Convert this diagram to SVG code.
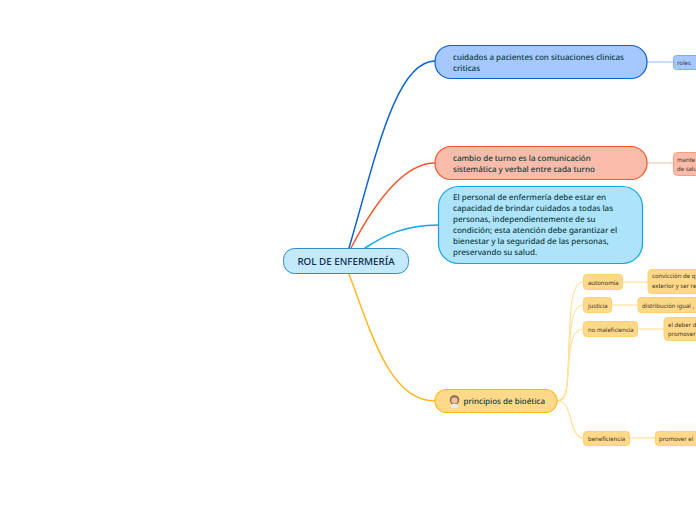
<svg xmlns="http://www.w3.org/2000/svg" width="696" height="520" viewBox="0 0 696 520">
<style>
text{font-family:"Noto Sans","Open Sans","Liberation Sans",sans-serif;text-rendering:geometricPrecision}
.m{font-size:8px;font-weight:500;fill:#0d3b3a}
.s{font-size:6px;fill:#3a2f1a}
.c{fill:none;stroke-linecap:round;stroke-width:1.500}
.y{fill:#ffd98a;stroke:#ffcf70;stroke-width:1}
.yl{stroke:#ffdf9a;stroke-width:1.200;fill:none}
</style>
<rect width="696" height="520" fill="#fff"/>
<g id="connectors">
<path class="c" d="M349 248C375 160 395 61 435 61" stroke="#0b5fd0"/>
<path class="c" d="M351 248C376 200 405 163 435 163" stroke="#f4562a"/>
<path class="c" d="M365 248C385 235 405 225 438 225" stroke="#0ea5e9"/>
<path class="c" d="M349 274C372 335 390 401 435 401" stroke="#ffb81f"/>
<path class="yl" d="M647 62H673" style="stroke:#a4c8ff"/>
<path class="yl" d="M647 163H673" style="stroke:#fcc9b8"/>
<path class="yl" d="M557 401C566 401 567 390 568 372C570 315 570 282 583 282"/>
<path class="yl" d="M557 401C566 401 567 390 568 372C570 330 571 305 583 305"/>
<path class="yl" d="M557 401C566 401 567 390 568 372C570 345 572 329 583 329"/>
<path class="yl" d="M557 401C567 401 569 412 572 424C575 434 578 438 583 438"/>
<path class="yl" d="M623 282H648"/>
<path class="yl" d="M612 305H638"/>
<path class="yl" d="M638 329H664"/>
<path class="yl" d="M630 438H655"/>
</g>
<g id="root"><rect x="283.500" y="248.500" width="125" height="25" rx="11" fill="#c2e9fc" stroke="#2a8fc9"/><text x="346" y="265" text-anchor="middle" font-weight="500" fill="#10284a" style="font-size:9.800px">ROL DE ENFERMERÍA</text></g>
<g id="n1"><rect x="435" y="45.500" width="212" height="33" rx="16" fill="#a4c8ff" stroke="#0b5fd0" stroke-width="1.200"/><text class="m" x="453" y="60">cuidados a pacientes con situaciones clinicas</text><text class="m" x="453" y="71">criticas</text></g>
<g id="n1a"><rect x="673.500" y="55.500" width="30" height="14" rx="3" fill="#a4c8ff" stroke="#7aaef5"/><text class="s" x="677" y="65">roles</text></g>
<g id="n2"><rect x="435" y="146.500" width="212" height="33" rx="16" fill="#fabcaa" stroke="#f4562a" stroke-width="1.200"/><text class="m" x="453" y="161">cambio de turno es la comunicación</text><text class="m" x="453" y="172">sistemática y verbal entre cada turno</text></g>
<g id="n2a"><rect x="673.500" y="152.500" width="50" height="23" rx="4" fill="#fabcaa" stroke="#f99c82"/><text class="s" x="677" y="162">mante</text><text class="s" x="677" y="171">de salu</text></g>
<g id="n3"><rect x="438.500" y="186.500" width="204" height="77" rx="20" fill="#ade3fb" stroke="#0ea5e9" stroke-width="1.200"/>
<text class="m" x="453" y="200">El personal de enfermería debe estar en</text>
<text class="m" x="453" y="211">capacidad de brindar cuidados a todas las</text>
<text class="m" x="453" y="222">personas, independientemente de su</text>
<text class="m" x="453" y="233">condición; esta atención debe garantizar el</text>
<text class="m" x="453" y="244">bienestar y la seguridad de las personas,</text>
<text class="m" x="453" y="255">preservando su salud.</text></g>
<g id="n4"><rect x="435" y="389.500" width="122" height="23" rx="11.500" fill="#ffd98a" stroke="#ffb81f" stroke-width="1.200"/>
<circle cx="454.500" cy="400" r="4.800" fill="#8a6a50"/><circle cx="454.500" cy="400.500" r="3.200" fill="#f2bd98"/><rect x="451" y="404" width="7" height="4" rx="1.500" fill="#dfeef2"/>
<text class="m" x="463.500" y="404">principios de bioética</text></g>
<g id="a1"><rect class="y" x="583.500" y="274.500" width="39" height="15" rx="3"/><text class="s" x="588" y="284.500">autonomía</text></g>
<g id="a2"><rect class="y" x="648" y="269.500" width="60" height="24" rx="4"/><text class="s" x="652" y="278">convicción de q</text><text class="s" x="652" y="288">exterior y ser re</text></g>
<g id="b1"><rect class="y" x="583.500" y="297.500" width="28" height="15" rx="3"/><text class="s" x="588" y="307.500">justicia</text></g>
<g id="b2"><rect class="y" x="638" y="297.500" width="70" height="15" rx="3"/><text class="s" x="642" y="307.500">distribución igual ,</text></g>
<g id="c1"><rect class="y" x="583.500" y="321.500" width="54" height="15" rx="3"/><text class="s" x="588" y="331.500">no maleficiencia</text></g>
<g id="c2"><rect class="y" x="664" y="317.500" width="50" height="23" rx="4"/><text class="s" x="668" y="327">el deber d</text><text class="s" x="668" y="336">promover</text></g>
<g id="d1"><rect class="y" x="583.500" y="431.500" width="46" height="14" rx="3"/><text class="s" x="588" y="441">beneficiencia</text></g>
<g id="d2"><rect class="y" x="655.500" y="431.500" width="60" height="14" rx="3"/><text class="s" x="659" y="441">promover el</text></g>
</svg>
